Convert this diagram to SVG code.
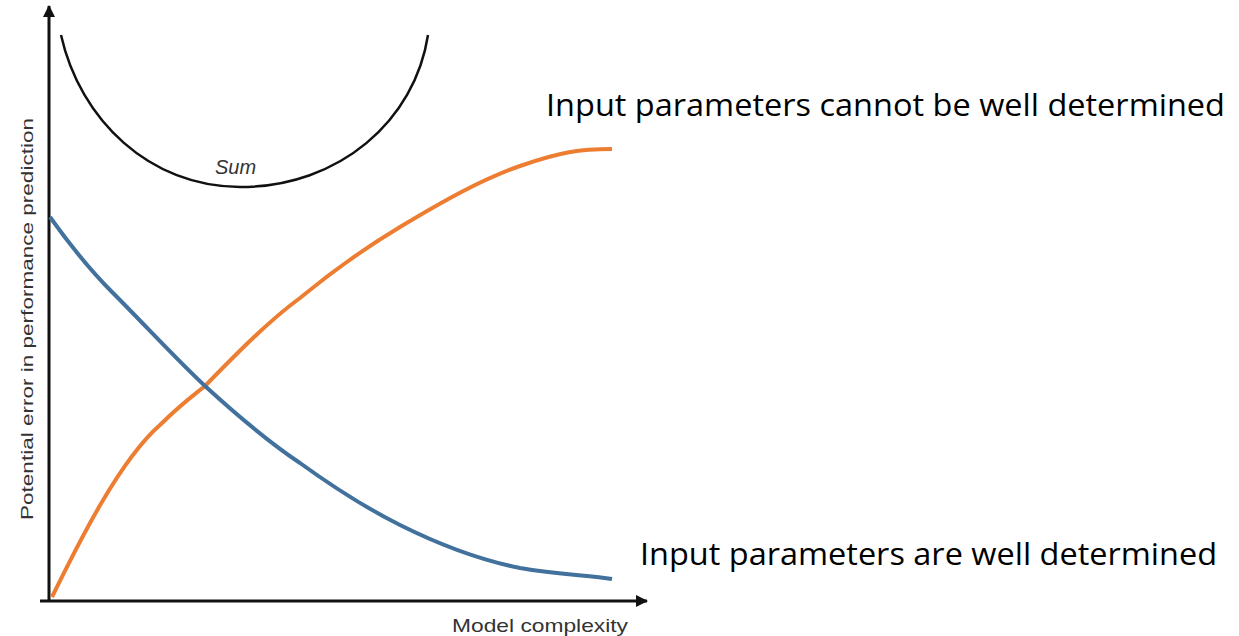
<svg xmlns="http://www.w3.org/2000/svg" width="1239" height="636" viewBox="0 0 1239 636">
<defs>
<marker id="arr" markerWidth="12" markerHeight="12" refX="11" refY="6" orient="auto" markerUnits="userSpaceOnUse" viewBox="0 0 12 12">
<path d="M0,0 L12,6 L0,12 z" fill="#111"/>
</marker>
<style>
.axis{stroke:#111;stroke-width:3;fill:none}
.lbl{font-family:"Liberation Sans",Arial,sans-serif;fill:#333}
.big{font-family:"Open Sans","Liberation Sans",sans-serif;fill:#000;font-size:31px}
</style>
</defs>
<rect width="1239" height="636" fill="#fff"/>
<g id="axes">
<line class="axis" x1="49" y1="601" x2="49" y2="6" marker-end="url(#arr)"/>
<line class="axis" x1="40" y1="601" x2="647" y2="601" marker-end="url(#arr)"/>
</g>
<g id="ylabel"><text class="lbl" font-size="17" transform="translate(33,319) rotate(-90)" text-anchor="middle" textLength="402" lengthAdjust="spacingAndGlyphs">Potential error in performance prediction</text></g>
<g id="xlabel"><text class="lbl" font-size="19" x="452" y="632" textLength="176" lengthAdjust="spacingAndGlyphs">Model complexity</text></g>
<g id="connectors">
<path id="sum" d="M61,35 C80,120 150,187 240,187 C340,187 415,120 428,35" fill="none" stroke="#111" stroke-width="2.5"/>
<path id="orange" d="M52,597 C80,540 120,460 160,425 C180,405 190,398 205,386 C240,350 270,320 300,298 C340,265 370,245 400,227 C440,203 480,180 520,166 C560,152 580,149 612,149" fill="none" stroke="#ED7D31" stroke-width="4"/>
<path id="blue" d="M50,217 C70,245 90,270 112,292 C145,325 175,358 205,386 C240,418 270,443 300,463 C340,492 370,510 400,525 C440,545 480,560 520,568 C560,575 590,575 612,579" fill="none" stroke="#41719C" stroke-width="4"/>
</g>
<g id="sumlabel"><text class="lbl" font-size="20" font-style="italic" x="215" y="174">Sum</text></g>
<g id="t1"><text class="big" x="546" y="116" textLength="679" lengthAdjust="spacingAndGlyphs">Input parameters cannot be well determined</text></g>
<g id="t2"><text class="big" x="640" y="565" textLength="577" lengthAdjust="spacingAndGlyphs">Input parameters are well determined</text></g>
</svg>
